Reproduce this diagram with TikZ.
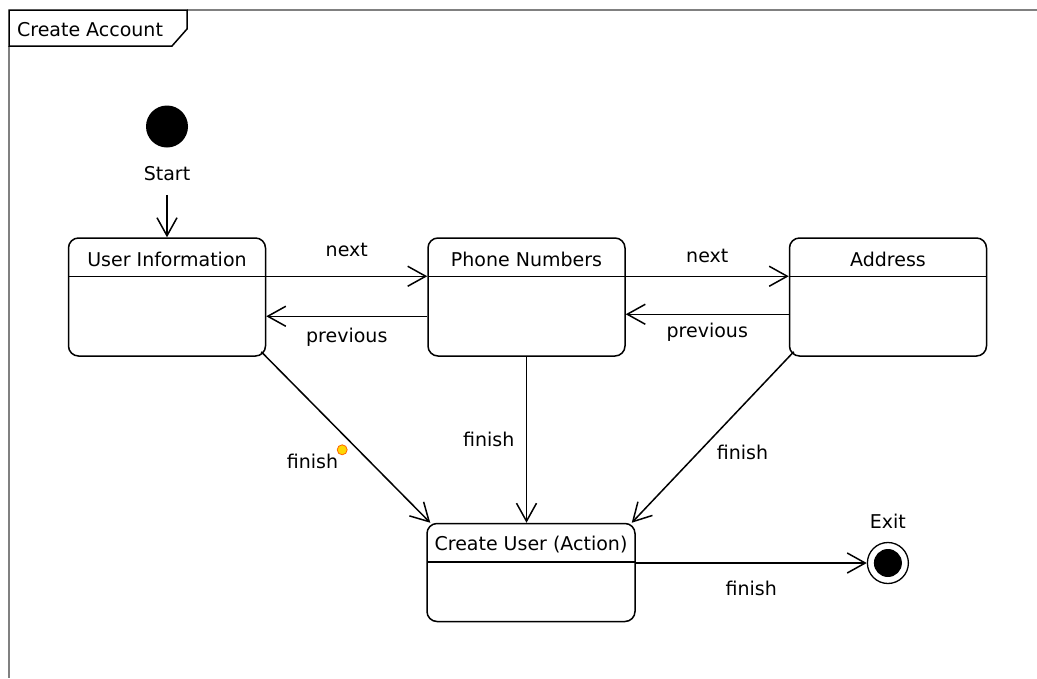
\documentclass[tikz,border=0pt]{standalone}
\usepackage{fontspec}
\setmainfont{DejaVu Sans}
\usetikzlibrary{arrows.meta,positioning}

\begin{document}
\begin{tikzpicture}[
  x=1pt, y=-1pt,
  line width=1.5pt,
  font=\fontsize{19}{22}\selectfont,
  >={Straight Barb[length=18pt,width=20pt]},
  state/.style={draw, rounded corners=10pt, minimum width=197pt, minimum height=118pt,
    inner ysep=10pt, text height=18pt, text depth=80pt,
    path picture={\draw[line width=1.5pt]
      ([yshift=-38.5pt]path picture bounding box.north west)
      -- ([yshift=-38.5pt]path picture bounding box.north east);}},
  startstate/.style={circle, fill, minimum size=42pt, inner sep=0pt},
  endstate/.style={circle, draw, line width=1.3pt, minimum size=41pt, inner sep=0pt},
  enddot/.style={circle, fill, minimum size=28pt, inner sep=0pt},
  marker/.style={circle, draw=orange!80!red, fill=yellow!75!orange, line width=0.8pt,
    minimum size=10pt, inner sep=0pt}
]
  \useasboundingbox (0,0) rectangle (1037,678);

  % frame and its name tag
  \draw[gray] (187,10) -- (1037,10);
  \draw[gray] (9,46) -- (9,678);
  \draw (9,10) -- (187,10) -- (187,29) -- (172,46) -- (9,46) -- cycle;
  \node[anchor=west] (title) at (13,30) {Create Account};

  % states
  \node[state] (ui) at (167,297) {User Information};
  \node[state, right=161pt of ui] (phone) {Phone Numbers};
  \node[state, right=163pt of phone] (addr) {Address};
  \node[state, below=166pt of phone, xshift=4.5pt, minimum width=208pt,
    minimum height=98pt, text height=17pt, text depth=61pt] (cu) {Create User (Action)};

  \node[startstate, above=89pt of ui] (start) {};
  \node[below=14pt of start] (startlbl) {Start};
  \node[endstate, right=231pt of cu, yshift=9.5pt] (exit) {};
  \node[enddot] (exitdot) at (exit) {};
  \node[above=9pt of exit] (exitlbl) {Exit};

  % transitions
  \draw[->, shorten <=10pt] (startlbl) -- (ui);
  \draw[->] ([yshift=-39pt]ui.north east) -- node[above=15pt] (next1) {next}
    ([yshift=-39pt]phone.north west);
  \draw[->] ([yshift=-79pt]phone.north west) -- node[below=8pt] (prev1) {previous}
    ([yshift=-79pt]ui.north east);
  \draw[->] ([yshift=-39pt]phone.north east) -- node[above=9pt] (next2) {next}
    ([yshift=-39pt]addr.north west);
  \draw[->] ([yshift=-77pt]addr.north west) -- node[below=5pt] (prev2) {previous}
    ([yshift=-77pt]phone.north east);

  \draw[->] ([shift={(-5pt,5pt)}]ui.south east) -- node[pos=0.55, below left=4pt and 12pt] (fin1) {finish}
    ([xshift=4pt]cu.north west);
  \draw[->] (phone) -- node[left=8pt] (fin2) {finish} (phone |- cu.north);
  \draw[->] ([shift={(5pt,5pt)}]addr.south west) -- node[below right=4pt and 0pt] (fin3) {finish}
    ([xshift=-4pt]cu.north east);
  \draw[->] (exit -| cu.east) -- node[below=14pt] (fin4) {finish} (exit);

  \node[marker] (mark) at (fin1.north east) {};
\end{tikzpicture}
\end{document}
